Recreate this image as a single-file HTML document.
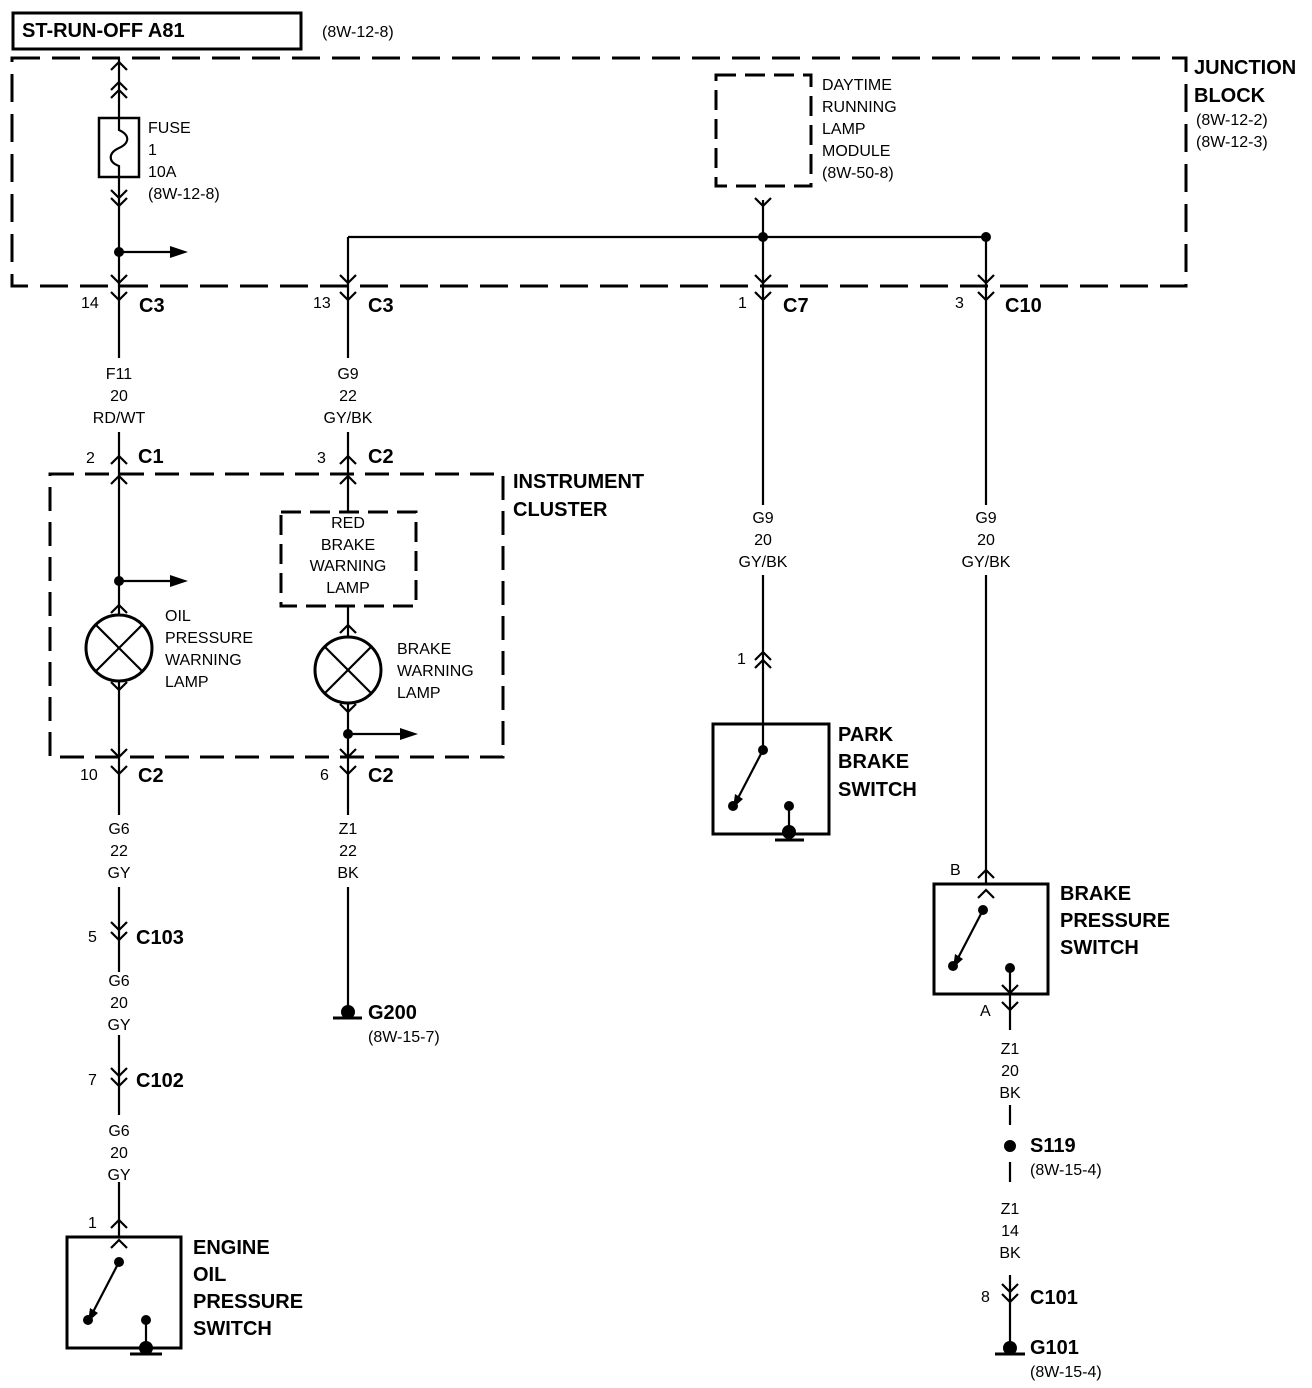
<!DOCTYPE html>
<html><head><meta charset="utf-8"><style>
html,body{margin:0;padding:0;background:#fff}
svg{display:block}
text{font-family:"Liberation Sans",Arial,sans-serif;fill:#000}
.s{font-size:16px}
.b{font-size:20px;font-weight:bold}
.m{font-size:16px;text-anchor:middle}
</style></head><body>
<svg width="1312" height="1388" viewBox="0 0 1312 1388" xmlns="http://www.w3.org/2000/svg">
<g fill="none" stroke="#000" stroke-width="2.2">
<rect x="13" y="13" width="288" height="36" stroke-width="3"/>
<rect x="12" y="58" width="1174" height="228" stroke-width="3" stroke-dasharray="28 12"/>
<rect x="50" y="474" width="453" height="283" stroke-width="3" stroke-dasharray="24 11"/>
<rect x="716" y="75" width="95" height="111" stroke-width="3" stroke-dasharray="20 9"/>
<rect x="281" y="512" width="135" height="94" stroke-width="3" stroke-dasharray="20 9"/>
<!-- wires -->
<path d="M119 58 V118 M119 177 V358 M119 432 V615 M119 681 V815 M119 887 V972 M119 1035 V1115 M119 1182 V1237"/>
<path d="M348 237 V358 M348 432 V512 M348 606 V637 M348 704 V815 M348 887 V1012"/>
<line x1="348" y1="237" x2="986" y2="237"/>
<path d="M763 200 V505 M763 575 V752"/>
<path d="M986 237 V505 M986 575 V884"/>
<line x1="1010" y1="994" x2="1010" y2="1030"/>
<line x1="1010" y1="1105" x2="1010" y2="1125"/>
<line x1="1010" y1="1162" x2="1010" y2="1182"/>
<line x1="1010" y1="1275" x2="1010" y2="1348"/>
<circle cx="119" cy="648" r="33" fill="#fff" stroke-width="3"/>
<line x1="96" y1="625" x2="142" y2="671"/><line x1="142" y1="625" x2="96" y2="671"/>
<circle cx="348" cy="670" r="33" fill="#fff" stroke-width="3"/>
<line x1="325" y1="647" x2="371" y2="693"/><line x1="371" y1="647" x2="325" y2="693"/>
<rect x="99" y="118" width="40" height="59" fill="#fff" stroke-width="2.5"/>
<path d="M119 118 V130 C130 135,130 143,119 148 C108 153,108 162,119 166 V177" />
<rect x="67" y="1237" width="114" height="111" stroke-width="3"/>
<rect x="713" y="724" width="116" height="110" stroke-width="3"/>
<rect x="934" y="884" width="114" height="110" stroke-width="3"/>
<line x1="119" y1="1262" x2="92" y2="1314"/>
<line x1="146" y1="1320" x2="146" y2="1348"/>
<line x1="763" y1="750" x2="737" y2="800"/>
<line x1="789" y1="806" x2="789" y2="834"/>
<line x1="983" y1="910" x2="957" y2="960"/>
<line x1="1010" y1="968" x2="1010" y2="994"/>
<path d="M111 190 L119 198 L127 190 M111 198 L119 206 L127 198"/>
<path d="M111 275 L119 283 L127 275 M111 292 L119 300 L127 292"/>
<path d="M340 275 L348 283 L356 275 M340 292 L348 300 L356 292"/>
<path d="M755 275 L763 283 L771 275 M755 292 L763 300 L771 292"/>
<path d="M978 275 L986 283 L994 275 M978 292 L986 300 L994 292"/>
<path d="M755 198 L763 206 L771 198"/>
<path d="M111 682 L119 690 L127 682"/>
<path d="M111 749 L119 757 L127 749 M111 766 L119 774 L127 766"/>
<path d="M340 704 L348 712 L356 704"/>
<path d="M340 749 L348 757 L356 749 M340 766 L348 774 L356 766"/>
<path d="M111 922 L119 930 L127 922 M111 932 L119 940 L127 932"/>
<path d="M111 1068 L119 1076 L127 1068 M111 1078 L119 1086 L127 1078"/>
<path d="M1002 985 L1010 993 L1018 985 M1002 1002 L1010 1010 L1018 1002"/>
<path d="M1002 1284 L1010 1292 L1018 1284 M1002 1294 L1010 1302 L1018 1294"/>
<path d="M111 70 L119 62 L127 70 M111 90 L119 82 L127 90 M111 98 L119 90 L127 98"/>
<path d="M111 464 L119 456 L127 464 M111 484 L119 476 L127 484"/>
<path d="M340 464 L348 456 L356 464 M340 484 L348 476 L356 484"/>
<path d="M111 613 L119 605 L127 613"/>
<path d="M340 633 L348 625 L356 633"/>
<path d="M755 660 L763 652 L771 660 M755 668 L763 660 L771 668"/>
<path d="M978 878 L986 870 L994 878 M978 898 L986 890 L994 898"/>
<path d="M111 1228 L119 1220 L127 1228 M111 1248 L119 1240 L127 1248"/>
<line x1="119" y1="252" x2="172" y2="252"/>
<line x1="119" y1="581" x2="172" y2="581"/>
<line x1="348" y1="734" x2="402" y2="734"/>
<line x1="130" y1="1354" x2="162" y2="1354" stroke-width="3"/>
<line x1="775" y1="840" x2="804" y2="840" stroke-width="3"/>
<line x1="333" y1="1018" x2="362" y2="1018" stroke-width="3"/>
<line x1="995" y1="1354" x2="1025" y2="1354" stroke-width="3"/>
</g>
<g fill="#000">
<polygon points="170,246 188,252 170,258"/>
<polygon points="170,575 188,581 170,587"/>
<polygon points="400,728 418,734 400,740"/>
<polygon points="88,1322 90,1308 98,1313"/>
<polygon points="733,808 735,794 743,799"/>
<polygon points="953,968 955,954 963,959"/>
<circle cx="119" cy="252" r="5"/><circle cx="119" cy="581" r="5"/><circle cx="348" cy="734" r="5"/>
<circle cx="763" cy="237" r="5"/><circle cx="986" cy="237" r="5"/>
<circle cx="119" cy="1262" r="5"/><circle cx="88" cy="1320" r="5"/><circle cx="146" cy="1320" r="5"/><circle cx="146" cy="1348" r="7"/>
<circle cx="763" cy="750" r="5"/><circle cx="733" cy="806" r="5"/><circle cx="789" cy="806" r="5"/><circle cx="789" cy="832" r="7"/>
<circle cx="983" cy="910" r="5"/><circle cx="953" cy="966" r="5"/><circle cx="1010" cy="968" r="5"/>
<circle cx="348" cy="1012" r="7"/><circle cx="1010" cy="1146" r="6"/><circle cx="1010" cy="1348" r="7"/>
</g>
<text class="b" x="22" y="37">ST-RUN-OFF A81</text>
<text class="s" x="322" y="37">(8W-12-8)</text>
<text class="b" x="1194" y="74">JUNCTION</text>
<text class="b" x="1194" y="102">BLOCK</text>
<text class="s" x="1196" y="125">(8W-12-2)</text>
<text class="s" x="1196" y="147">(8W-12-3)</text>
<text class="s" x="148" y="133">FUSE</text><text class="s" x="148" y="155">1</text>
<text class="s" x="148" y="177">10A</text><text class="s" x="148" y="199">(8W-12-8)</text>
<text class="s" x="822" y="90">DAYTIME</text><text class="s" x="822" y="112">RUNNING</text>
<text class="s" x="822" y="134">LAMP</text><text class="s" x="822" y="156">MODULE</text>
<text class="s" x="822" y="178">(8W-50-8)</text>
<text class="s" x="81" y="308">14</text><text class="b" x="139" y="312">C3</text>
<text class="s" x="313" y="308">13</text><text class="b" x="368" y="312">C3</text>
<text class="s" x="738" y="308">1</text><text class="b" x="783" y="312">C7</text>
<text class="s" x="955" y="308">3</text><text class="b" x="1005" y="312">C10</text>
<text class="m" x="119" y="379">F11</text><text class="m" x="119" y="401">20</text><text class="m" x="119" y="423">RD/WT</text>
<text class="m" x="348" y="379">G9</text><text class="m" x="348" y="401">22</text><text class="m" x="348" y="423">GY/BK</text>
<text class="s" x="86" y="463">2</text><text class="b" x="138" y="463">C1</text>
<text class="s" x="317" y="463">3</text><text class="b" x="368" y="463">C2</text>
<text class="b" x="513" y="488">INSTRUMENT</text><text class="b" x="513" y="516">CLUSTER</text>
<text class="m" x="348" y="528">RED</text><text class="m" x="348" y="550">BRAKE</text>
<text class="m" x="348" y="571">WARNING</text><text class="m" x="348" y="593">LAMP</text>
<text class="s" x="165" y="621">OIL</text><text class="s" x="165" y="643">PRESSURE</text>
<text class="s" x="165" y="665">WARNING</text><text class="s" x="165" y="687">LAMP</text>
<text class="s" x="397" y="654">BRAKE</text><text class="s" x="397" y="676">WARNING</text><text class="s" x="397" y="698">LAMP</text>
<text class="m" x="763" y="523">G9</text><text class="m" x="763" y="545">20</text><text class="m" x="763" y="567">GY/BK</text>
<text class="m" x="986" y="523">G9</text><text class="m" x="986" y="545">20</text><text class="m" x="986" y="567">GY/BK</text>
<text class="s" x="737" y="664">1</text>
<text class="b" x="838" y="741">PARK</text><text class="b" x="838" y="768">BRAKE</text><text class="b" x="838" y="796">SWITCH</text>
<text class="s" x="80" y="780">10</text><text class="b" x="138" y="782">C2</text>
<text class="s" x="320" y="780">6</text><text class="b" x="368" y="782">C2</text>
<text class="m" x="119" y="834">G6</text><text class="m" x="119" y="856">22</text><text class="m" x="119" y="878">GY</text>
<text class="m" x="348" y="834">Z1</text><text class="m" x="348" y="856">22</text><text class="m" x="348" y="878">BK</text>
<text class="s" x="950" y="875">B</text>
<text class="b" x="1060" y="900">BRAKE</text><text class="b" x="1060" y="927">PRESSURE</text><text class="b" x="1060" y="954">SWITCH</text>
<text class="s" x="88" y="942">5</text><text class="b" x="136" y="944">C103</text>
<text class="m" x="119" y="986">G6</text><text class="m" x="119" y="1008">20</text><text class="m" x="119" y="1030">GY</text>
<text class="b" x="368" y="1019">G200</text><text class="s" x="368" y="1042">(8W-15-7)</text>
<text class="s" x="980" y="1016">A</text>
<text class="m" x="1010" y="1054">Z1</text><text class="m" x="1010" y="1076">20</text><text class="m" x="1010" y="1098">BK</text>
<text class="s" x="88" y="1085">7</text><text class="b" x="136" y="1087">C102</text>
<text class="m" x="119" y="1136">G6</text><text class="m" x="119" y="1158">20</text><text class="m" x="119" y="1180">GY</text>
<text class="b" x="1030" y="1152">S119</text><text class="s" x="1030" y="1175">(8W-15-4)</text>
<text class="s" x="88" y="1228">1</text>
<text class="m" x="1010" y="1214">Z1</text><text class="m" x="1010" y="1236">14</text><text class="m" x="1010" y="1258">BK</text>
<text class="b" x="193" y="1254">ENGINE</text><text class="b" x="193" y="1281">OIL</text>
<text class="b" x="193" y="1308">PRESSURE</text><text class="b" x="193" y="1335">SWITCH</text>
<text class="s" x="981" y="1302">8</text><text class="b" x="1030" y="1304">C101</text>
<text class="b" x="1030" y="1354">G101</text><text class="s" x="1030" y="1377">(8W-15-4)</text>
</svg>
</body></html>
